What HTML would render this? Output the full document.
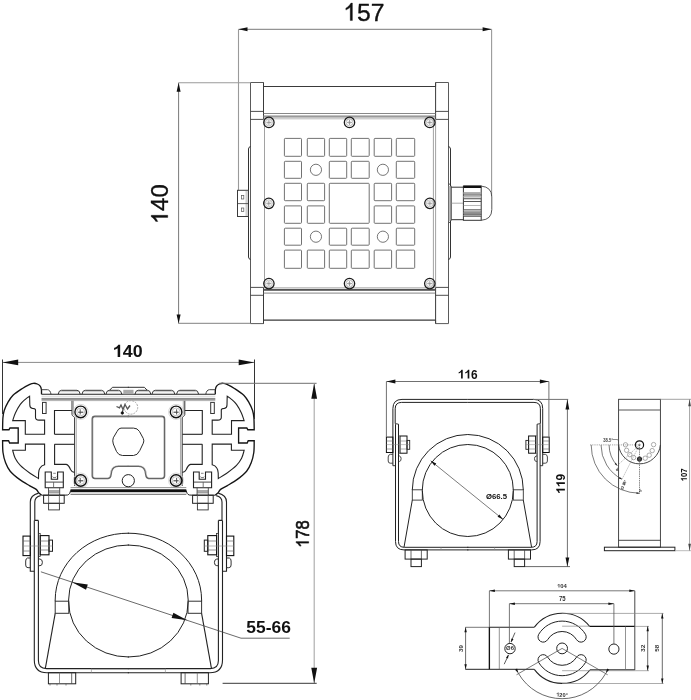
<!DOCTYPE html>
<html><head><meta charset="utf-8"><style>
html,body{margin:0;padding:0;background:#fff;width:691px;height:700px;overflow:hidden}
svg{display:block;font-family:"Liberation Sans",sans-serif;filter:grayscale(1)}
</style></head><body>
<svg width="691" height="700" viewBox="0 0 691 700">
<rect width="691" height="700" fill="#fff"/>
<line x1="238.5" y1="29.3" x2="491.6" y2="29.3" stroke="#7a7a7a" stroke-width="1" />
<path d="M238.50,29.30 L247.50,27.30 L247.50,31.30 Z" fill="#111" stroke="none"/>
<path d="M491.60,29.30 L482.60,31.30 L482.60,27.30 Z" fill="#111" stroke="none"/>
<line x1="238.5" y1="29.3" x2="238.5" y2="190.3" stroke="#9a9a9a" stroke-width="1.1" />
<line x1="491.6" y1="29.3" x2="491.6" y2="196" stroke="#9a9a9a" stroke-width="1.1" />
<g transform="translate(343.183,20.556) scale(0.24702,0.24384)" fill="#111" stroke="#111" stroke-width="1.43" stroke-linejoin="round" opacity="0.995"><path transform="translate(0.00,0)" d="M37.3,0 L37.3,-71.6 L31.5,-71.6 C29,-66.5 24.5,-61.2 18,-56 C15.5,-54 13,-52.5 10.9,-51.5 L10.9,-43 C14,-44.2 18,-46.5 22,-49 C25,-51 27,-52.7 28.5,-54.1 L28.5,0 Z"/><text x="55.60" y="0" font-size="100" font-weight="normal">5</text><text x="111.20" y="0" font-size="100" font-weight="normal">7</text></g>
<line x1="178.6" y1="82.7" x2="178.6" y2="323.6" stroke="#7a7a7a" stroke-width="1" />
<path d="M178.60,82.70 L180.60,91.70 L176.60,91.70 Z" fill="#111" stroke="none"/>
<path d="M178.60,323.60 L176.60,314.60 L180.60,314.60 Z" fill="#111" stroke="none"/>
<line x1="178.6" y1="82.7" x2="250" y2="82.7" stroke="#9a9a9a" stroke-width="1.1" />
<line x1="178.6" y1="323.4" x2="250" y2="323.4" stroke="#9a9a9a" stroke-width="1.1" />
<g transform="translate(167.768,224.241) rotate(-90) scale(0.24013,0.23151)" fill="#111" stroke="#111" stroke-width="1.48" stroke-linejoin="round" opacity="0.995"><path transform="translate(0.00,0)" d="M37.3,0 L37.3,-71.6 L31.5,-71.6 C29,-66.5 24.5,-61.2 18,-56 C15.5,-54 13,-52.5 10.9,-51.5 L10.9,-43 C14,-44.2 18,-46.5 22,-49 C25,-51 27,-52.7 28.5,-54.1 L28.5,0 Z"/><text x="55.60" y="0" font-size="100" font-weight="normal">4</text><text x="111.20" y="0" font-size="100" font-weight="normal">0</text></g>
<path d="M263.5,86.5 L263.5,82.5 L250.5,82.5 L250.5,323.6 L263.5,323.6 L263.5,320.2" stroke="#5a5a5a" stroke-width="1" fill="none" />
<line x1="263.5" y1="82.5" x2="263.5" y2="119.4" stroke="#3a3a3a" stroke-width="1" />
<line x1="263.5" y1="287.4" x2="263.5" y2="323.6" stroke="#3a3a3a" stroke-width="1" />
<line x1="250.5" y1="111.4" x2="263.5" y2="111.4" stroke="#3a3a3a" stroke-width="0.9" />
<line x1="250.5" y1="119.4" x2="263.5" y2="119.4" stroke="#3a3a3a" stroke-width="0.9" />
<line x1="250.5" y1="287.4" x2="263.5" y2="287.4" stroke="#3a3a3a" stroke-width="0.9" />
<line x1="250.5" y1="295.3" x2="263.5" y2="295.3" stroke="#3a3a3a" stroke-width="0.9" />
<path d="M435.6,86.5 L435.6,82.5 L448.5,82.5 L448.5,323.6 L435.6,323.6 L435.6,320.2" stroke="#5a5a5a" stroke-width="1" fill="none" />
<line x1="435.6" y1="82.5" x2="435.6" y2="119.4" stroke="#3a3a3a" stroke-width="1" />
<line x1="435.6" y1="287.4" x2="435.6" y2="323.6" stroke="#3a3a3a" stroke-width="1" />
<line x1="435.6" y1="111.4" x2="448.5" y2="111.4" stroke="#3a3a3a" stroke-width="0.9" />
<line x1="435.6" y1="119.4" x2="448.5" y2="119.4" stroke="#3a3a3a" stroke-width="0.9" />
<line x1="435.6" y1="287.4" x2="448.5" y2="287.4" stroke="#3a3a3a" stroke-width="0.9" />
<line x1="435.6" y1="295.3" x2="448.5" y2="295.3" stroke="#3a3a3a" stroke-width="0.9" />
<line x1="435.6" y1="119.4" x2="435.6" y2="287.4" stroke="#8a8a8a" stroke-width="0.8" />
<line x1="263.5" y1="86.5" x2="435.6" y2="86.5" stroke="#3a3a3a" stroke-width="1.2" />
<line x1="263.5" y1="320.2" x2="435.6" y2="320.2" stroke="#3a3a3a" stroke-width="1.2" />
<line x1="263.5" y1="113.5" x2="435.6" y2="113.5" stroke="#7a7a7a" stroke-width="0.9" />
<rect x="263.5" y="115.4" width="171.7" height="2.2" fill="#9a9a9a"/>
<line x1="263.5" y1="118.8" x2="435.2" y2="118.8" stroke="#aaa" stroke-width="0.8" />
<line x1="263.5" y1="287.9" x2="435.2" y2="287.9" stroke="#888" stroke-width="0.8" />
<rect x="263.5" y="289.0" width="171.7" height="1.8" fill="#555"/>
<line x1="263.5" y1="293.1" x2="435.2" y2="293.1" stroke="#777" stroke-width="0.9" />
<line x1="264.5" y1="119.5" x2="264.5" y2="287.5" stroke="#8a8a8a" stroke-width="0.8" />
<line x1="433.4" y1="119.5" x2="433.4" y2="287.5" stroke="#8a8a8a" stroke-width="0.8" />
<path d="M250.5,146.5 Q248.5,147 248.5,149 L248.5,257 Q248.5,259 250.5,259.5" stroke="#333" stroke-width="1" fill="none" />
<path d="M448.5,146.5 Q450.5,147 450.5,149 L450.5,257 Q450.5,259 448.5,259.5" stroke="#333" stroke-width="1" fill="none" />
<rect x="237.5" y="190.3" width="11.0" height="26.2" stroke="#3a3a3a" stroke-width="1" fill="none" rx="0" />
<rect x="245.5" y="191" width="2.4" height="25" fill="#d0d0d0"/>
<line x1="237.3" y1="203.6" x2="248.3" y2="203.6" stroke="#3a3a3a" stroke-width="0.8" />
<rect x="241.6" y="195.6" width="2.2" height="3.4" stroke="#555" stroke-width="0.7" fill="none" rx="0" />
<rect x="241.6" y="208.0" width="2.2" height="3.4" stroke="#555" stroke-width="0.7" fill="none" rx="0" />
<rect x="284.4" y="138.4" width="17.100000000000023" height="17.900000000000006" stroke="#6a6a6a" stroke-width="0.95" fill="none" rx="0.8" />
<rect x="284.4" y="161.3" width="17.100000000000023" height="17.0" stroke="#6a6a6a" stroke-width="0.95" fill="none" rx="0.8" />
<rect x="284.4" y="183.3" width="17.100000000000023" height="17.399999999999977" stroke="#6a6a6a" stroke-width="0.95" fill="none" rx="0.8" />
<rect x="284.4" y="205.9" width="17.100000000000023" height="17.400000000000006" stroke="#6a6a6a" stroke-width="0.95" fill="none" rx="0.8" />
<rect x="284.4" y="228.2" width="17.100000000000023" height="17.0" stroke="#6a6a6a" stroke-width="0.95" fill="none" rx="0.8" />
<rect x="284.4" y="250.1" width="17.100000000000023" height="18.200000000000017" stroke="#6a6a6a" stroke-width="0.95" fill="none" rx="0.8" />
<rect x="307.3" y="138.4" width="17.30000000000001" height="17.900000000000006" stroke="#6a6a6a" stroke-width="0.95" fill="none" rx="0.8" />
<circle cx="315.95000000000005" cy="169.8" r="5.6" stroke="#666" stroke-width="0.9" fill="none"/>
<rect x="307.3" y="183.3" width="17.30000000000001" height="17.399999999999977" stroke="#6a6a6a" stroke-width="0.95" fill="none" rx="0.8" />
<rect x="307.3" y="205.9" width="17.30000000000001" height="17.400000000000006" stroke="#6a6a6a" stroke-width="0.95" fill="none" rx="0.8" />
<circle cx="315.95000000000005" cy="236.7" r="5.6" stroke="#666" stroke-width="0.9" fill="none"/>
<rect x="307.3" y="250.1" width="17.30000000000001" height="18.200000000000017" stroke="#6a6a6a" stroke-width="0.95" fill="none" rx="0.8" />
<rect x="329.3" y="138.4" width="17.399999999999977" height="17.900000000000006" stroke="#6a6a6a" stroke-width="0.95" fill="none" rx="0.8" />
<rect x="329.3" y="161.3" width="17.399999999999977" height="17.0" stroke="#6a6a6a" stroke-width="0.95" fill="none" rx="0.8" />
<rect x="329.3" y="228.2" width="17.399999999999977" height="17.0" stroke="#6a6a6a" stroke-width="0.95" fill="none" rx="0.8" />
<rect x="329.3" y="250.1" width="17.399999999999977" height="18.200000000000017" stroke="#6a6a6a" stroke-width="0.95" fill="none" rx="0.8" />
<rect x="351.3" y="138.4" width="17.899999999999977" height="17.900000000000006" stroke="#6a6a6a" stroke-width="0.95" fill="none" rx="0.8" />
<rect x="351.3" y="161.3" width="17.899999999999977" height="17.0" stroke="#6a6a6a" stroke-width="0.95" fill="none" rx="0.8" />
<rect x="351.3" y="228.2" width="17.899999999999977" height="17.0" stroke="#6a6a6a" stroke-width="0.95" fill="none" rx="0.8" />
<rect x="351.3" y="250.1" width="17.899999999999977" height="18.200000000000017" stroke="#6a6a6a" stroke-width="0.95" fill="none" rx="0.8" />
<rect x="374.2" y="138.4" width="17.400000000000034" height="17.900000000000006" stroke="#6a6a6a" stroke-width="0.95" fill="none" rx="0.8" />
<circle cx="382.9" cy="169.8" r="5.6" stroke="#666" stroke-width="0.9" fill="none"/>
<rect x="374.2" y="183.3" width="17.400000000000034" height="17.399999999999977" stroke="#6a6a6a" stroke-width="0.95" fill="none" rx="0.8" />
<rect x="374.2" y="205.9" width="17.400000000000034" height="17.400000000000006" stroke="#6a6a6a" stroke-width="0.95" fill="none" rx="0.8" />
<circle cx="382.9" cy="236.7" r="5.6" stroke="#666" stroke-width="0.9" fill="none"/>
<rect x="374.2" y="250.1" width="17.400000000000034" height="18.200000000000017" stroke="#6a6a6a" stroke-width="0.95" fill="none" rx="0.8" />
<rect x="396.3" y="138.4" width="18.399999999999977" height="17.900000000000006" stroke="#6a6a6a" stroke-width="0.95" fill="none" rx="0.8" />
<rect x="396.3" y="161.3" width="18.399999999999977" height="17.0" stroke="#6a6a6a" stroke-width="0.95" fill="none" rx="0.8" />
<rect x="396.3" y="183.3" width="18.399999999999977" height="17.399999999999977" stroke="#6a6a6a" stroke-width="0.95" fill="none" rx="0.8" />
<rect x="396.3" y="205.9" width="18.399999999999977" height="17.400000000000006" stroke="#6a6a6a" stroke-width="0.95" fill="none" rx="0.8" />
<rect x="396.3" y="228.2" width="18.399999999999977" height="17.0" stroke="#6a6a6a" stroke-width="0.95" fill="none" rx="0.8" />
<rect x="396.3" y="250.1" width="18.399999999999977" height="18.200000000000017" stroke="#6a6a6a" stroke-width="0.95" fill="none" rx="0.8" />
<rect x="329.3" y="183.3" width="39.89999999999998" height="40.0" stroke="#6a6a6a" stroke-width="0.95" fill="none" rx="0.8" />
<circle cx="268.9" cy="122.4" r="5.2" stroke="#1a1a1a" stroke-width="1.25" fill="none"/>
<circle cx="268.9" cy="122.4" r="3.5" stroke="#9a9a9a" stroke-width="0.6" fill="none"/>
<line x1="266.4" y1="122.4" x2="271.4" y2="122.4" stroke="#888" stroke-width="0.8" />
<line x1="268.9" y1="119.9" x2="268.9" y2="124.9" stroke="#888" stroke-width="0.8" />
<line x1="269.79999999999995" y1="123.30000000000001" x2="270.9" y2="124.4" stroke="#aaa" stroke-width="0.6" />
<line x1="269.79999999999995" y1="121.5" x2="270.9" y2="120.4" stroke="#aaa" stroke-width="0.6" />
<line x1="268.0" y1="123.30000000000001" x2="266.9" y2="124.4" stroke="#aaa" stroke-width="0.6" />
<line x1="268.0" y1="121.5" x2="266.9" y2="120.4" stroke="#aaa" stroke-width="0.6" />
<circle cx="268.9" cy="283.6" r="5.2" stroke="#1a1a1a" stroke-width="1.25" fill="none"/>
<circle cx="268.9" cy="283.6" r="3.5" stroke="#9a9a9a" stroke-width="0.6" fill="none"/>
<line x1="266.4" y1="283.6" x2="271.4" y2="283.6" stroke="#888" stroke-width="0.8" />
<line x1="268.9" y1="281.1" x2="268.9" y2="286.1" stroke="#888" stroke-width="0.8" />
<line x1="269.79999999999995" y1="284.5" x2="270.9" y2="285.6" stroke="#aaa" stroke-width="0.6" />
<line x1="269.79999999999995" y1="282.70000000000005" x2="270.9" y2="281.6" stroke="#aaa" stroke-width="0.6" />
<line x1="268.0" y1="284.5" x2="266.9" y2="285.6" stroke="#aaa" stroke-width="0.6" />
<line x1="268.0" y1="282.70000000000005" x2="266.9" y2="281.6" stroke="#aaa" stroke-width="0.6" />
<circle cx="349.5" cy="122.4" r="5.2" stroke="#1a1a1a" stroke-width="1.25" fill="none"/>
<circle cx="349.5" cy="122.4" r="3.5" stroke="#9a9a9a" stroke-width="0.6" fill="none"/>
<line x1="347.0" y1="122.4" x2="352.0" y2="122.4" stroke="#888" stroke-width="0.8" />
<line x1="349.5" y1="119.9" x2="349.5" y2="124.9" stroke="#888" stroke-width="0.8" />
<line x1="350.4" y1="123.30000000000001" x2="351.5" y2="124.4" stroke="#aaa" stroke-width="0.6" />
<line x1="350.4" y1="121.5" x2="351.5" y2="120.4" stroke="#aaa" stroke-width="0.6" />
<line x1="348.6" y1="123.30000000000001" x2="347.5" y2="124.4" stroke="#aaa" stroke-width="0.6" />
<line x1="348.6" y1="121.5" x2="347.5" y2="120.4" stroke="#aaa" stroke-width="0.6" />
<circle cx="349.5" cy="283.6" r="5.2" stroke="#1a1a1a" stroke-width="1.25" fill="none"/>
<circle cx="349.5" cy="283.6" r="3.5" stroke="#9a9a9a" stroke-width="0.6" fill="none"/>
<line x1="347.0" y1="283.6" x2="352.0" y2="283.6" stroke="#888" stroke-width="0.8" />
<line x1="349.5" y1="281.1" x2="349.5" y2="286.1" stroke="#888" stroke-width="0.8" />
<line x1="350.4" y1="284.5" x2="351.5" y2="285.6" stroke="#aaa" stroke-width="0.6" />
<line x1="350.4" y1="282.70000000000005" x2="351.5" y2="281.6" stroke="#aaa" stroke-width="0.6" />
<line x1="348.6" y1="284.5" x2="347.5" y2="285.6" stroke="#aaa" stroke-width="0.6" />
<line x1="348.6" y1="282.70000000000005" x2="347.5" y2="281.6" stroke="#aaa" stroke-width="0.6" />
<circle cx="429.8" cy="122.4" r="5.2" stroke="#1a1a1a" stroke-width="1.25" fill="none"/>
<circle cx="429.8" cy="122.4" r="3.5" stroke="#9a9a9a" stroke-width="0.6" fill="none"/>
<line x1="427.3" y1="122.4" x2="432.3" y2="122.4" stroke="#888" stroke-width="0.8" />
<line x1="429.8" y1="119.9" x2="429.8" y2="124.9" stroke="#888" stroke-width="0.8" />
<line x1="430.7" y1="123.30000000000001" x2="431.8" y2="124.4" stroke="#aaa" stroke-width="0.6" />
<line x1="430.7" y1="121.5" x2="431.8" y2="120.4" stroke="#aaa" stroke-width="0.6" />
<line x1="428.90000000000003" y1="123.30000000000001" x2="427.8" y2="124.4" stroke="#aaa" stroke-width="0.6" />
<line x1="428.90000000000003" y1="121.5" x2="427.8" y2="120.4" stroke="#aaa" stroke-width="0.6" />
<circle cx="429.8" cy="283.6" r="5.2" stroke="#1a1a1a" stroke-width="1.25" fill="none"/>
<circle cx="429.8" cy="283.6" r="3.5" stroke="#9a9a9a" stroke-width="0.6" fill="none"/>
<line x1="427.3" y1="283.6" x2="432.3" y2="283.6" stroke="#888" stroke-width="0.8" />
<line x1="429.8" y1="281.1" x2="429.8" y2="286.1" stroke="#888" stroke-width="0.8" />
<line x1="430.7" y1="284.5" x2="431.8" y2="285.6" stroke="#aaa" stroke-width="0.6" />
<line x1="430.7" y1="282.70000000000005" x2="431.8" y2="281.6" stroke="#aaa" stroke-width="0.6" />
<line x1="428.90000000000003" y1="284.5" x2="427.8" y2="285.6" stroke="#aaa" stroke-width="0.6" />
<line x1="428.90000000000003" y1="282.70000000000005" x2="427.8" y2="281.6" stroke="#aaa" stroke-width="0.6" />
<circle cx="268.8" cy="203.3" r="5.2" stroke="#1a1a1a" stroke-width="1.25" fill="none"/>
<circle cx="268.8" cy="203.3" r="3.5" stroke="#9a9a9a" stroke-width="0.6" fill="none"/>
<line x1="266.3" y1="203.3" x2="271.3" y2="203.3" stroke="#888" stroke-width="0.8" />
<line x1="268.8" y1="200.8" x2="268.8" y2="205.8" stroke="#888" stroke-width="0.8" />
<line x1="269.7" y1="204.20000000000002" x2="270.8" y2="205.3" stroke="#aaa" stroke-width="0.6" />
<line x1="269.7" y1="202.4" x2="270.8" y2="201.3" stroke="#aaa" stroke-width="0.6" />
<line x1="267.90000000000003" y1="204.20000000000002" x2="266.8" y2="205.3" stroke="#aaa" stroke-width="0.6" />
<line x1="267.90000000000003" y1="202.4" x2="266.8" y2="201.3" stroke="#aaa" stroke-width="0.6" />
<circle cx="429.9" cy="203.3" r="5.2" stroke="#1a1a1a" stroke-width="1.25" fill="none"/>
<circle cx="429.9" cy="203.3" r="3.5" stroke="#9a9a9a" stroke-width="0.6" fill="none"/>
<line x1="427.4" y1="203.3" x2="432.4" y2="203.3" stroke="#888" stroke-width="0.8" />
<line x1="429.9" y1="200.8" x2="429.9" y2="205.8" stroke="#888" stroke-width="0.8" />
<line x1="430.79999999999995" y1="204.20000000000002" x2="431.9" y2="205.3" stroke="#aaa" stroke-width="0.6" />
<line x1="430.79999999999995" y1="202.4" x2="431.9" y2="201.3" stroke="#aaa" stroke-width="0.6" />
<line x1="429.0" y1="204.20000000000002" x2="427.9" y2="205.3" stroke="#aaa" stroke-width="0.6" />
<line x1="429.0" y1="202.4" x2="427.9" y2="201.3" stroke="#aaa" stroke-width="0.6" />
<rect x="448.8" y="186" width="2.7" height="35" fill="#bbb"/>
<path d="M448.8,183.5 Q450.8,184.5 451.2,187 L451.2,219.5 Q450.8,222 448.8,223" stroke="#333" stroke-width="0.9" fill="none" />
<path d="M451.2,187.2 L463.4,187.2 M451.2,219.7 L463.4,219.7" stroke="#333" stroke-width="1" fill="none" />
<line x1="451.2" y1="203.2" x2="463.4" y2="203.2" stroke="#888" stroke-width="0.7" />
<rect x="463.4" y="186.1" width="17.8" height="34.2" stroke="#333" stroke-width="1" fill="none" rx="0" />
<rect x="463.4" y="185.6" width="17.8" height="2.4" fill="#111"/>
<rect x="463.4" y="192.1" width="17.8" height="2.0" fill="#a8a8a8"/>
<rect x="463.4" y="194.3" width="17.8" height="1.3" fill="#6a6a6a"/>
<rect x="463.4" y="195.9" width="17.8" height="1.7" fill="#b8b8b8"/>
<rect x="463.4" y="198.1" width="17.8" height="1.2" fill="#6a6a6a"/>
<rect x="463.4" y="201" width="17.8" height="0.9" fill="#444"/>
<rect x="463.4" y="205.3" width="17.8" height="0.6" fill="#888"/>
<rect x="463.4" y="209.3" width="17.8" height="0.8" fill="#555"/>
<rect x="463.4" y="210.4" width="17.8" height="0.9" fill="#999"/>
<rect x="463.4" y="211.6" width="17.8" height="0.6" fill="#555"/>
<rect x="463.4" y="212.1" width="17.8" height="1.8" fill="#8a8a8a"/>
<rect x="463.4" y="213.9" width="17.8" height="0.8" fill="#444"/>
<rect x="463.4" y="215" width="17.8" height="0.9" fill="#999"/>
<rect x="463.4" y="216" width="17.8" height="0.7" fill="#444"/>
<path d="M481.2,186.1 Q491.8,187 491.8,197 L491.8,209.5 Q491.8,219.5 481.2,220.3" stroke="#444" stroke-width="0.9" fill="none" />
<g id="llhalf"><path d="M41.5,394.2 C41.48,393.42 41.62,390.83 41.4,389.5 C41.18,388.17 40.88,387.12 40.2,386.2 C39.52,385.28 38.42,384.48 37.3,384.0 C36.18,383.52 34.75,383.23 33.5,383.3 C32.25,383.37 31.72,383.50 29.8,384.4 C27.88,385.30 24.80,386.88 22,388.7 C19.20,390.52 15.37,392.98 13,395.3 C10.63,397.62 9.27,400.07 7.8,402.6 C6.33,405.13 5.02,407.93 4.2,410.5 C3.38,413.07 3.17,414.80 2.9,418 C2.63,421.20 2.65,427.75 2.6,429.7 L9,429.7 L10,428 L18.2,428 L18.2,443 L9.6,443 L8.6,440.7 L2.6,440.7 C2.67,442.67 2.50,448.82 3.0,452.5 C3.50,456.18 4.40,459.68 5.6,462.8 C6.80,465.92 7.88,468.43 10.2,471.2 C12.52,473.97 16.23,476.97 19.5,479.4 C22.77,481.83 27.02,484.13 29.8,485.8 C32.58,487.47 34.73,488.27 36.2,489.4 C37.67,490.53 37.70,491.63 38.6,492.6 C39.50,493.57 41.10,494.77 41.6,495.2" stroke="#151515" stroke-width="1.35" fill="none"/>
<path d="M12.7,420.6 L25.3,420.6 L25.3,434.3 L44.6,434.3 L44.6,420.1 L39,420.1 C36.5,420 35.5,419 35.5,417.5 L35.5,410 C35.5,409 34,408.5 32.4,408.4 C30.5,408 29.8,407.4 29.8,405 L29.6,396.3 C28.88,396.80 26.85,397.95 25.3,399.3 C23.75,400.65 21.95,402.12 20.3,404.4 C18.65,406.68 16.67,410.30 15.4,413 C14.13,415.70 13.15,419.33 12.7,420.6 Z" stroke="#222" stroke-width="1.1" fill="none"/>
<path d="M12.6,450.2 L25.4,450.2 L25.4,444.1 L44.6,444.1 L44.6,464.8 C42.5,465.2 40.9,466.5 40,468 C39,469.5 38.6,471 38.6,473 L38.5,478.5 C37.15,477.67 33.43,475.68 30.4,473.5 C27.37,471.32 22.83,467.93 20.3,465.4 C17.77,462.87 16.48,460.83 15.2,458.3 C13.92,455.77 13.03,451.55 12.6,450.2 Z" stroke="#222" stroke-width="1.1" fill="none"/>
<path d="M54.6,444.3 L54.6,464.4 L66.2,464.4 C68.5,465 69.5,467 70.5,469.5 C71.5,471.5 72.5,472.3 74.5,472.4" stroke="#222" stroke-width="1.1" fill="none"/>
<path d="M54.5,434.3 L54.5,410.5 L72,410.5" stroke="#222" stroke-width="1.1" fill="none"/>
<line x1="54.5" y1="434.3" x2="74.5" y2="434.3" stroke="#222" stroke-width="1.1"/>
<line x1="54.5" y1="444.3" x2="74.5" y2="444.3" stroke="#222" stroke-width="1.1"/>
<rect x="42.5" y="402.4" width="3.6" height="11.1" stroke="#333" stroke-width="1" fill="none" rx="0"/>
<path d="M41.5,389.7 L47.5,389.7 C49.5,389.9 50.5,391.5 51,394.2" stroke="#444" stroke-width="1" fill="none"/>
<path d="M58.2,394.2 Q58.800000000000004,390.3 61.400000000000006,390.3 L77.0,390.3 Q79.60000000000001,390.3 80.2,394.2" stroke="#333" stroke-width="1" fill="none"/>
<line x1="60.400000000000006" y1="391.7" x2="78.0" y2="391.7" stroke="#aaa" stroke-width="0.7"/>
<path d="M82.0,394.2 Q82.6,390.3 85.2,390.3 L101.6,390.3 Q104.2,390.3 104.8,394.2" stroke="#333" stroke-width="1" fill="none"/>
<line x1="84.2" y1="391.7" x2="102.6" y2="391.7" stroke="#aaa" stroke-width="0.7"/>
<path d="M106,394.2 Q106.6,390.3 109.2,390.3 L118.6,390.3 Q121.2,390.3 121.8,394.2" stroke="#333" stroke-width="1" fill="none"/>
<line x1="108.2" y1="391.7" x2="119.6" y2="391.7" stroke="#aaa" stroke-width="0.7"/>
<path d="M109.6,390.3 L112.4,387.3 L129,387.3" stroke="#333" stroke-width="1" fill="none"/>
<path d="M72,400.6 L72,414.5 Q72,415.5 73.5,416.5 L74.6,417.5 L74.6,486" stroke="#333" stroke-width="1" fill="none"/>
<path d="M73.5,400.6 L73.5,413.8 Q73.8,415 75.3,416 L76.3,417 L76.3,485" stroke="#999" stroke-width="0.8" fill="none"/>
<path d="M129,416.5 L95,416.5 Q92.4,416.5 92.4,419 L92.4,475.8 Q92.4,478.3 95,478.3 L108.1,478.3 Q110.5,478 110.8,475 L111.5,471 Q113,466.2 118.5,466.1 L129,466.1" stroke="#666" stroke-width="1.8" fill="none"/>
<path d="M129,417.3 L95.3,417.3 Q93.3,417.3 93.3,419.3 L93.3,475.5 Q93.3,477.5 95.3,477.5 L107.8,477.5 Q109.8,477.2 110.1,474.8 L110.8,471 Q112.3,465.3 118.5,465.3 L129,465.3" stroke="#fff" stroke-width="0.5" fill="none"/>
<circle cx="80.7" cy="411.9" r="5.8" stroke="#111" stroke-width="1.4" fill="none"/>
<circle cx="80.7" cy="411.9" r="3.9" stroke="#999" stroke-width="0.6" fill="none"/>
<line x1="78.2" y1="412.2" x2="83.3" y2="412.2" stroke="#333" stroke-width="1.0"/>
<line x1="80.2" y1="409.29999999999995" x2="80.2" y2="414.5" stroke="#444" stroke-width="0.9"/>
<circle cx="80.7" cy="411.9" r="7.5" stroke="#c8c8c8" stroke-width="0.7" fill="none"/>
<circle cx="80.7" cy="480.5" r="5.8" stroke="#111" stroke-width="1.4" fill="none"/>
<circle cx="80.7" cy="480.5" r="3.9" stroke="#999" stroke-width="0.6" fill="none"/>
<line x1="78.2" y1="480.8" x2="83.3" y2="480.8" stroke="#333" stroke-width="1.0"/>
<line x1="80.2" y1="477.9" x2="80.2" y2="483.1" stroke="#444" stroke-width="0.9"/>
<circle cx="80.7" cy="480.5" r="7.5" stroke="#c8c8c8" stroke-width="0.7" fill="none"/>
<path d="M45.2,472 L51.3,472 L51.3,479.2 L57.6,479.2 L57.6,472 L63.3,472 L63.3,487.7 L45.2,487.7 Z" stroke="#222" stroke-width="1.1" fill="none"/>
<path d="M52.6,476.5 L53.8,478 L54.5,477 L55.2,478 L56.3,476.5 M53.2,473.3 L55.8,473.3" stroke="#555" stroke-width="0.7" fill="none"/>
<line x1="45.2" y1="482.1" x2="63.3" y2="482.1" stroke="#333" stroke-width="0.9"/>
<line x1="53.6" y1="482.1" x2="53.6" y2="487.7" stroke="#555" stroke-width="0.8"/>
<path d="M48.5,487.7 L48.5,495.2 M59.7,487.7 L59.7,495.2" stroke="#444" stroke-width="0.9" fill="none"/>
<line x1="48.5" y1="491.0" x2="59.7" y2="491.0" stroke="#444" stroke-width="0.9"/>
<line x1="48.5" y1="492.8" x2="59.7" y2="492.8" stroke="#555" stroke-width="0.8"/>
<path d="M64,495.2 L67.5,495 C69.5,494.5 70.3,492.5 70.5,490.5" stroke="#222" stroke-width="1" fill="none"/>
<line x1="41.6" y1="495.2" x2="64" y2="495.2" stroke="#222" stroke-width="1"/>
<rect x="43.6" y="495.2" width="20.6" height="8.1" stroke="#222" stroke-width="1" fill="none" rx="0"/>
<line x1="48.6" y1="495.2" x2="48.6" y2="503.3" stroke="#555" stroke-width="0.8"/>
<line x1="59.4" y1="495.2" x2="59.4" y2="503.3" stroke="#555" stroke-width="0.8"/>
<rect x="48.6" y="503.3" width="10.8" height="6.6" stroke="#333" stroke-width="0.9" fill="none" rx="0"/>
<path d="M38.6,493.1 C33,494.5 30.3,497 30.3,502 L30.3,571.3 L34.3,571.3" stroke="#222" stroke-width="1.1" fill="none"/>
<path d="M40.6,495.6 C36.5,496.5 34.8,498.5 34.8,502 L34.8,520.4 L38.4,520.4" stroke="#222" stroke-width="1.1" fill="none"/>
<path d="M34.3,520.4 L34.3,660 Q34.3,672.7 47,672.7 L129,672.7" stroke="#222" stroke-width="1.1" fill="none"/>
<path d="M38.4,520.4 L38.4,660.5 Q38.4,668.6 46.5,668.6 L129,668.6" stroke="#222" stroke-width="1.1" fill="none"/>
<line x1="91.4" y1="668.6" x2="91.4" y2="672.7" stroke="#888" stroke-width="0.6"/>
<rect x="23" y="536.1" width="7.3" height="19.5" stroke="#111" stroke-width="1.1" fill="none" rx="0"/>
<line x1="23" y1="541" x2="30.3" y2="541" stroke="#666" stroke-width="0.7"/>
<line x1="23" y1="551" x2="30.3" y2="551" stroke="#666" stroke-width="0.7"/>
<rect x="38.4" y="533.6" width="1.8" height="23" stroke="#333" stroke-width="0.8" fill="none" rx="0"/>
<rect x="40.2" y="535.6" width="8.8" height="19.2" stroke="#111" stroke-width="1.1" fill="none" rx="0"/>
<line x1="40.2" y1="541" x2="49" y2="541" stroke="#666" stroke-width="0.7"/>
<line x1="40.2" y1="550" x2="49" y2="550" stroke="#666" stroke-width="0.7"/>
<rect x="49" y="540.1" width="3.5" height="11.2" stroke="#222" stroke-width="1" fill="none" rx="0"/>
<line x1="23" y1="546" x2="52.5" y2="546" stroke="#888" stroke-width="0.6"/>
<path d="M30.3,558 L27.5,558 Q25.7,558.5 25.7,561 L25.7,565 Q25.7,567.7 28,567.7 L30.3,567.7" stroke="#333" stroke-width="1" fill="none"/>
<path d="M38.4,559 L40,559 Q42.4,559.5 42.4,562.3 Q42.4,565.7 40,565.7 L38.4,565.7" stroke="#333" stroke-width="1" fill="none"/>
<path d="M55.2,601.2 L55.2,600 A73.1,66.8 0 0 1 129,533.2" stroke="#222" stroke-width="1" fill="none"/>
<path d="M68.6,601.2 L68.6,600 A59.8,55 0 0 1 129,545" stroke="#222" stroke-width="1" fill="none"/>
<rect x="55.2" y="601.2" width="13.6" height="12.1" stroke="#333" stroke-width="1" fill="none" rx="0"/>
<line x1="55.2" y1="613.3" x2="45.3" y2="668.6" stroke="#222" stroke-width="1.1"/>
<path d="M68.6,601.5 A59.8,55.7 0 0 0 129,657" stroke="#222" stroke-width="1" fill="none"/>
<rect x="48.4" y="672.7" width="27.3" height="11.1" stroke="#222" stroke-width="1" fill="none" rx="0"/>
<line x1="59.5" y1="672.7" x2="59.5" y2="683.8" stroke="#666" stroke-width="0.7"/>
<line x1="71.7" y1="672.7" x2="71.7" y2="683.8" stroke="#444" stroke-width="0.8"/>
<path d="M50,683.8 L50,685.5 M57,683.8 L57,685.5 M66,683.8 L66,685.5" stroke="#555" stroke-width="0.7" fill="none"/></g>
<use href="#llhalf" transform="translate(256.8,0) scale(-1,1)"/>
<line x1="41.5" y1="394.2" x2="215.3" y2="394.2" stroke="#222" stroke-width="1.1" />
<rect x="41.5" y="397.9" width="173.8" height="2.0" fill="#8c8c8c"/>
<line x1="41.5" y1="396.3" x2="215.3" y2="396.3" stroke="#d0d0d0" stroke-width="0.8" />
<line x1="41.5" y1="400.6" x2="215.3" y2="400.6" stroke="#999" stroke-width="0.8" />
<line x1="70.5" y1="487.6" x2="186.3" y2="487.6" stroke="#888" stroke-width="0.9" />
<rect x="70.5" y="489.3" width="115.8" height="2.9" fill="#111"/>
<line x1="70.5" y1="494.3" x2="186.3" y2="494.3" stroke="#666" stroke-width="1" />
<line x1="91.4" y1="669.3" x2="165.4" y2="669.3" stroke="#999" stroke-width="0.6" />
<rect x="123.3" y="389.8" width="10.2" height="4.4" fill="#aaa"/>
<circle cx="130.9" cy="407.4" r="6.8" stroke="#aaa" stroke-width="1" fill="none" stroke-dasharray="2 1"/>
<path d="M116.5,406.5 L119.5,407.8 L121,405 L123,409.5 L125,404.5 L127.5,409 L130,405.5 M123,409.5 L122.3,412.5" stroke="#555" stroke-width="1.3" fill="none" />
<circle cx="122.3" cy="413" r="1.2" stroke="#111" stroke-width="0.8" fill="#111"/>
<path d="M121,428.1 L133.5,428.1 Q137.5,428.1 139.5,431.5 L143.3,438.5 Q144.4,440.8 143.3,443.2 L139.8,450.5 Q137.5,455.5 133.5,455.5 L122.5,455.5 Q118.5,455.5 116.5,451.5 L113.3,444 Q112.2,440.8 113.3,437.8 L117,431.5 Q118.5,428.1 121,428.1 Z" stroke="#2a2a2a" stroke-width="1" fill="none" />
<circle cx="128.3" cy="480.7" r="6.1" stroke="#222" stroke-width="1" fill="none"/>
<line x1="2.5" y1="362.4" x2="254.4" y2="362.4" stroke="#8a8a8a" stroke-width="1" />
<path d="M2.50,362.40 L18.20,359.50 L18.20,365.30 Z" fill="#111" stroke="none"/>
<path d="M254.40,362.40 L238.70,365.30 L238.70,359.50 Z" fill="#111" stroke="none"/>
<line x1="2.5" y1="359.5" x2="2.5" y2="414" stroke="#333" stroke-width="1" />
<line x1="254.5" y1="359.5" x2="254.5" y2="419" stroke="#333" stroke-width="1" />
<g transform="translate(112.853,356.929) scale(0.17821,0.17123)" fill="#111" opacity="0.995"><path transform="translate(0.00,0)" d="M41,0 L41,-71.6 L30,-71.6 C28,-66 23,-61 16,-57 C13,-55.3 10,-54 7,-53 L7,-41 C13,-43 20,-46.2 27,-51 L27,0 Z"/><text x="55.60" y="0" font-size="100" font-weight="bold">4</text><text x="111.20" y="0" font-size="100" font-weight="bold">0</text></g>
<line x1="218.8" y1="383.3" x2="316.6" y2="383.3" stroke="#707070" stroke-width="1" />
<line x1="314.2" y1="383.3" x2="314.2" y2="683.3" stroke="#a8a8a8" stroke-width="1.1" />
<path d="M314.20,383.30 L317.10,398.80 L311.30,398.80 Z" fill="#111" stroke="none"/>
<path d="M314.20,683.30 L311.30,667.80 L317.10,667.80 Z" fill="#111" stroke="none"/>
<line x1="222.6" y1="683.3" x2="316.7" y2="683.3" stroke="#222" stroke-width="0.9" />
<g transform="translate(308.625,547.814) rotate(-90) scale(0.16490,0.17534)" fill="#111" stroke="#111" stroke-width="3.53" stroke-linejoin="round" opacity="0.995"><path transform="translate(0.00,0)" d="M37.3,0 L37.3,-71.6 L31.5,-71.6 C29,-66.5 24.5,-61.2 18,-56 C15.5,-54 13,-52.5 10.9,-51.5 L10.9,-43 C14,-44.2 18,-46.5 22,-49 C25,-51 27,-52.7 28.5,-54.1 L28.5,0 Z"/><text x="55.60" y="0" font-size="100" font-weight="normal">7</text><text x="111.20" y="0" font-size="100" font-weight="normal">8</text></g>
<line x1="40.9" y1="571.8" x2="241" y2="638.2" stroke="#444" stroke-width="0.8" />
<line x1="241" y1="638.2" x2="289.7" y2="638.2" stroke="#444" stroke-width="0.8" />
<path d="M72.20,582.20 L87.79,584.42 L86.03,589.74 Z" fill="#111" stroke="none"/>
<path d="M187.20,620.30 L171.61,618.08 L173.37,612.76 Z" fill="#111" stroke="none"/>
<g transform="translate(246.277,633.138) scale(0.17430,0.16197)" fill="#111" opacity="0.995"><text x="0.00" y="0" font-size="100" font-weight="bold">5</text><text x="55.60" y="0" font-size="100" font-weight="bold">5</text><text x="111.20" y="0" font-size="100" font-weight="bold">-</text><text x="144.50" y="0" font-size="100" font-weight="bold">6</text><text x="200.10" y="0" font-size="100" font-weight="bold">6</text></g>
<g id="mrhalf"><path d="M392.9,465.7 L392.9,408.5 Q392.9,399.4 402,399.4 L467.8,399.4" stroke="#222" stroke-width="1" fill="none"/>
<path d="M395.2,423.6 L395.2,408.8 Q395.2,402.4 401.6,402.4 L467.8,402.4" stroke="#222" stroke-width="1" fill="none"/>
<line x1="395.2" y1="423.6" x2="398.5" y2="424.2" stroke="#222" stroke-width="0.9"/>
<line x1="392.9" y1="465.7" x2="395.5" y2="465.7" stroke="#222" stroke-width="0.9"/>
<path d="M395.5,424.2 L395.5,541.5 Q395.5,549.9 404,549.9 L468.40000000000003,549.9" stroke="#222" stroke-width="1" fill="none"/>
<path d="M398.5,424.2 L398.5,541.5 Q398.5,547.3 404.4,547.3 L468.40000000000003,547.3" stroke="#222" stroke-width="1" fill="none"/>
<line x1="441" y1="547.3" x2="441" y2="549.9" stroke="#888" stroke-width="0.6"/>
<rect x="386.4" y="437.1" width="6.5" height="15.4" stroke="#111" stroke-width="1" fill="none"/>
<line x1="386.4" y1="441" x2="392.9" y2="441" stroke="#666" stroke-width="0.6"/>
<line x1="386.4" y1="449" x2="392.9" y2="449" stroke="#666" stroke-width="0.6"/>
<line x1="398.5" y1="435.8" x2="399.9" y2="435.8" stroke="#666" stroke-width="0.6"/>
<line x1="398.5" y1="453.6" x2="399.9" y2="453.6" stroke="#666" stroke-width="0.6"/>
<rect x="400.0" y="436" width="7.0" height="17.2" stroke="#111" stroke-width="1" fill="none"/>
<line x1="400" y1="441" x2="407" y2="441" stroke="#777" stroke-width="0.6"/>
<line x1="400" y1="449" x2="407" y2="449" stroke="#777" stroke-width="0.6"/>
<rect x="407.0" y="440.4" width="2.7" height="8.9" stroke="#222" stroke-width="0.9" fill="none"/>
<line x1="386.4" y1="444.6" x2="409.6" y2="444.6" stroke="#888" stroke-width="0.5"/>
<path d="M392.9,454.3 L390.3,454.3 Q388.2,454.8 388.2,457 L388.2,461 Q388.2,463.2 390.3,463.2 L392.9,463.2" stroke="#333" stroke-width="0.9" fill="none"/>
<path d="M398.5,456 L399.5,456 Q401.1,456.5 401.1,458.6 Q401.1,461.4 399.5,461.4 L398.5,461.4" stroke="#333" stroke-width="0.9" fill="none"/>
<path d="M412.3,489.8 L412.3,490 A55.5,55.5 0 0 1 467.8,434.5" stroke="#222" stroke-width="1" fill="none"/>
<path d="M422.3,489.8 L422.3,490 A45.5,45.5 0 0 1 467.8,444.5" stroke="#222" stroke-width="1" fill="none"/>
<rect x="412.3" y="489.8" width="10" height="10.3" stroke="#333" stroke-width="0.9" fill="none"/>
<line x1="412.3" y1="500.1" x2="404" y2="547.3" stroke="#222" stroke-width="1"/>
<path d="M422.3,490.5 A45.5,46 0 0 0 467.8,536.5" stroke="#222" stroke-width="1" fill="none"/>
<rect x="405.1" y="549.9" width="22.1" height="9.2" stroke="#222" stroke-width="1" fill="none"/>
<line x1="411" y1="549.9" x2="411" y2="559.1" stroke="#444" stroke-width="0.8"/>
<line x1="421.4" y1="549.9" x2="421.4" y2="559.1" stroke="#444" stroke-width="0.8"/>
<rect x="411" y="559.1" width="10.4" height="7.5" stroke="#222" stroke-width="1" fill="none"/></g>
<use href="#mrhalf" transform="translate(935.6,0) scale(-1,1)"/>
<line x1="386.4" y1="381.5" x2="548.9" y2="381.5" stroke="#707070" stroke-width="1" />
<path d="M386.40,381.50 L395.40,379.60 L395.40,383.40 Z" fill="#111" stroke="none"/>
<path d="M548.90,381.50 L539.90,383.40 L539.90,379.60 Z" fill="#111" stroke="none"/>
<line x1="386.4" y1="381.5" x2="386.4" y2="437" stroke="#707070" stroke-width="1" />
<line x1="548.9" y1="381.5" x2="548.9" y2="437.3" stroke="#707070" stroke-width="1" />
<g transform="translate(457.870,378.578) scale(0.11859,0.12192)" fill="#111" opacity="0.995"><path transform="translate(0.00,0)" d="M41,0 L41,-71.6 L30,-71.6 C28,-66 23,-61 16,-57 C13,-55.3 10,-54 7,-53 L7,-41 C13,-43 20,-46.2 27,-51 L27,0 Z"/><path transform="translate(55.60,0)" d="M41,0 L41,-71.6 L30,-71.6 C28,-66 23,-61 16,-57 C13,-55.3 10,-54 7,-53 L7,-41 C13,-43 20,-46.2 27,-51 L27,0 Z"/><text x="111.20" y="0" font-size="100" font-weight="bold">6</text></g>
<line x1="533" y1="399.4" x2="568.2" y2="399.4" stroke="#707070" stroke-width="1" />
<line x1="567.4" y1="399.4" x2="567.4" y2="566.6" stroke="#707070" stroke-width="1" />
<path d="M567.40,399.40 L569.30,409.40 L565.50,409.40 Z" fill="#111" stroke="none"/>
<path d="M567.40,566.60 L565.50,557.60 L569.30,557.60 Z" fill="#111" stroke="none"/>
<line x1="524.9" y1="566.6" x2="570" y2="566.6" stroke="#444" stroke-width="0.8" />
<g transform="translate(564.879,493.730) rotate(-90) scale(0.11859,0.12055)" fill="#111" opacity="0.995"><path transform="translate(0.00,0)" d="M41,0 L41,-71.6 L30,-71.6 C28,-66 23,-61 16,-57 C13,-55.3 10,-54 7,-53 L7,-41 C13,-43 20,-46.2 27,-51 L27,0 Z"/><path transform="translate(55.60,0)" d="M41,0 L41,-71.6 L30,-71.6 C28,-66 23,-61 16,-57 C13,-55.3 10,-54 7,-53 L7,-41 C13,-43 20,-46.2 27,-51 L27,0 Z"/><text x="111.20" y="0" font-size="100" font-weight="bold">9</text></g>
<line x1="430.7" y1="460.8" x2="503.1" y2="519.4" stroke="#444" stroke-width="0.7" />
<path d="M430.70,460.80 L436.24,463.49 L434.48,465.66 Z" fill="#111" stroke="none"/>
<path d="M503.10,519.40 L497.56,516.71 L499.32,514.54 Z" fill="#111" stroke="none"/>
<g transform="translate(485.940,498.660) scale(0.07744,0.08000)" fill="#111" opacity="0.995"><text x="0.00" y="0" font-size="100" font-weight="bold">Ø</text><text x="77.80" y="0" font-size="100" font-weight="bold">6</text><text x="133.40" y="0" font-size="100" font-weight="bold">6</text><text x="189.00" y="0" font-size="100" font-weight="bold">.</text><text x="216.80" y="0" font-size="100" font-weight="bold">5</text></g>
<rect x="618.6" y="399.3" width="41.8" height="147.9" stroke="#333" stroke-width="0.9" fill="none" rx="0" />
<line x1="618.6" y1="410" x2="660.4" y2="410" stroke="#555" stroke-width="1" />
<line x1="618.6" y1="540.3" x2="660.4" y2="540.3" stroke="#333" stroke-width="0.9" />
<rect x="604.4" y="547.2" width="70.5" height="3.5" stroke="#222" stroke-width="1" fill="none" rx="0" />
<line x1="660.4" y1="399.3" x2="691" y2="399.3" stroke="#8a8a8a" stroke-width="0.8" />
<line x1="675" y1="550.7" x2="691" y2="550.7" stroke="#aaa" stroke-width="0.8" />
<line x1="689.6" y1="399.3" x2="689.6" y2="550.7" stroke="#8a8a8a" stroke-width="0.8" />
<path d="M689.60,399.30 L690.90,406.30 L688.30,406.30 Z" fill="#444" stroke="none"/>
<path d="M689.60,550.70 L688.30,543.70 L690.90,543.70 Z" fill="#444" stroke="none"/>
<g transform="translate(686.915,481.342) rotate(-90) scale(0.07742,0.08493)" fill="#111" opacity="0.995"><path transform="translate(0.00,0)" d="M41,0 L41,-71.6 L30,-71.6 C28,-66 23,-61 16,-57 C13,-55.3 10,-54 7,-53 L7,-41 C13,-43 20,-46.2 27,-51 L27,0 Z"/><text x="55.60" y="0" font-size="100" font-weight="bold">0</text><text x="111.20" y="0" font-size="100" font-weight="bold">7</text></g>
<path d="M618.6,444.9 A21,21 0 0 0 660.4,444.9" stroke="#333" stroke-width="0.9" fill="none" />
<circle cx="639.5" cy="444.9" r="4.1" stroke="#111" stroke-width="1.2" fill="none"/>
<circle cx="639.5" cy="444.9" r="0.8" stroke="#555" stroke-width="0.6" fill="none"/>
<circle cx="625.5" cy="444.8" r="2.2" stroke="#8a8a8a" stroke-width="0.7" fill="none"/>
<circle cx="626.6" cy="450.3" r="2.2" stroke="#8a8a8a" stroke-width="0.7" fill="none"/>
<circle cx="629.8" cy="454.6" r="2.2" stroke="#8a8a8a" stroke-width="0.7" fill="none"/>
<circle cx="633.6" cy="457.6" r="2.2" stroke="#8a8a8a" stroke-width="0.7" fill="none"/>
<circle cx="645.2" cy="458.2" r="2.2" stroke="#8a8a8a" stroke-width="0.7" fill="none"/>
<circle cx="649.2" cy="455.2" r="2.2" stroke="#8a8a8a" stroke-width="0.7" fill="none"/>
<circle cx="652.2" cy="450.6" r="2.2" stroke="#8a8a8a" stroke-width="0.7" fill="none"/>
<circle cx="653.6" cy="444.6" r="2.2" stroke="#8a8a8a" stroke-width="0.7" fill="none"/>
<circle cx="639.5" cy="459.1" r="2.2" stroke="#222" stroke-width="1" fill="#444"/>
<line x1="590" y1="444.9" x2="639.5" y2="444.9" stroke="#666" stroke-width="0.6" stroke-dasharray="1.2 1"/>
<line x1="639.5" y1="444.9" x2="639.5" y2="494" stroke="#555" stroke-width="0.6" stroke-dasharray="1.2 1"/>
<path d="M591.20,444.90 A48.3,48.3 0 0 0 639.50,493.20" stroke="#444" stroke-width="0.7" fill="none" />
<line x1="639.5" y1="444.9" x2="639.5" y2="493.2" stroke="#666" stroke-width="0.5" stroke-dasharray="1.2 1"/>
<path d="M639.50,493.20 L636.50,494.10 L636.50,492.30 Z" fill="#222" stroke="none"/>
<path d="M601.00,444.90 A38.5,38.5 0 0 0 622.02,479.20" stroke="#444" stroke-width="0.7" fill="none" />
<line x1="639.5" y1="444.9" x2="622.0213657600275" y2="479.20375118125213" stroke="#666" stroke-width="0.5" stroke-dasharray="1.2 1"/>
<path d="M622.02,479.20 L618.94,478.64 L619.76,477.04 Z" fill="#222" stroke="none"/>
<path d="M609.10,444.90 A30.4,30.4 0 0 0 617.27,465.63" stroke="#444" stroke-width="0.7" fill="none" />
<line x1="639.5" y1="444.9" x2="617.2668474707772" y2="465.63275014589993" stroke="#666" stroke-width="0.5" stroke-dasharray="1.2 1"/>
<path d="M617.27,465.63 L614.56,464.05 L615.88,462.82 Z" fill="#222" stroke="none"/>
<g transform="translate(603.218,442.354) scale(0.04079,0.04648)" fill="#444" opacity="0.995"><text x="0.00" y="0" font-size="100" font-weight="bold">3</text><text x="55.60" y="0" font-size="100" font-weight="bold">8</text><text x="111.20" y="0" font-size="100" font-weight="bold">.</text><text x="139.00" y="0" font-size="100" font-weight="bold">5</text><text x="194.60" y="0" font-size="100" font-weight="bold">°</text></g>
<path d="M612.6,439.5 L617.5,439.5 L618.6,441" stroke="#444" stroke-width="0.6" fill="none" />
<g fill="#222" font-size="3.5" font-weight="bold">
<text x="0" y="0" transform="translate(617.5,471.5) rotate(-55)">0°</text>
<text x="0" y="0" transform="translate(625,485.5) rotate(-70)">45°</text>
<text x="0" y="0" transform="translate(623,490) rotate(-72)">22.5°</text>
<text x="0" y="0" transform="translate(641.5,492) rotate(-90)">0°</text>
</g>
<line x1="489.4" y1="627.3" x2="534.4" y2="627.3" stroke="#222" stroke-width="1.1" />
<line x1="465.4" y1="627.3" x2="489.4" y2="627.3" stroke="#555" stroke-width="0.8" />
<line x1="465.4" y1="669.3" x2="534.3" y2="669.3" stroke="#222" stroke-width="1" />
<line x1="489.4" y1="590.8" x2="489.4" y2="669.3" stroke="#555" stroke-width="0.8" />
<line x1="489.4" y1="627.3" x2="489.4" y2="669.3" stroke="#111" stroke-width="1.3" />
<line x1="499.3" y1="627.3" x2="499.3" y2="669.3" stroke="#666" stroke-width="0.7" />
<line x1="589.9" y1="626.4" x2="634.8" y2="626.4" stroke="#111" stroke-width="1.3" />
<line x1="589.9" y1="669.8" x2="634.8" y2="669.8" stroke="#222" stroke-width="1" />
<line x1="634.8" y1="590.8" x2="634.8" y2="670" stroke="#333" stroke-width="0.9" />
<line x1="625.5" y1="626.4" x2="625.5" y2="670" stroke="#666" stroke-width="0.7" />
<path d="M534.4,627.2 A35,35 0 0 1 589.8,626.6" stroke="#222" stroke-width="1.1" fill="none" />
<path d="M534.3,669.3 A35,35 0 0 0 589.9,670" stroke="#222" stroke-width="1.1" fill="none" />
<path d="M538.70,634.34 A27.3,27.3 0 0 1 585.50,634.34 A5.200000000000001,5.200000000000001 0 0 1 576.59,639.70 A16.9,16.9 0 0 0 547.61,639.70 A5.200000000000001,5.200000000000001 0 0 1 538.70,634.34 Z" stroke="#222" stroke-width="1" fill="none" />
<path d="M538.70,662.46 A27.3,27.3 0 0 0 585.50,662.46 A5.200000000000001,5.200000000000001 0 0 0 576.59,657.10 A16.9,16.9 0 0 1 547.61,657.10 A5.200000000000001,5.200000000000001 0 0 0 538.70,662.46 Z" stroke="#222" stroke-width="1" fill="none" />
<circle cx="562.1" cy="648.4" r="5.4" stroke="#222" stroke-width="1" fill="none"/>
<circle cx="510" cy="648.6" r="5.2" stroke="#222" stroke-width="1" fill="none"/>
<circle cx="613.9" cy="649.1" r="5.1" stroke="#222" stroke-width="1" fill="none"/>
<g transform="translate(506.065,650.440) scale(0.05873,0.05333)" fill="#333" opacity="0.995"><text x="0.00" y="0" font-size="100" font-weight="bold">Ø</text><text x="77.80" y="0" font-size="100" font-weight="bold">6</text></g>
<line x1="562.1" y1="626.2" x2="589.9" y2="626.2" stroke="#888" stroke-width="0.7" />
<line x1="562.1" y1="670.7" x2="649" y2="670.7" stroke="#888" stroke-width="0.7" />
<line x1="634.8" y1="626.4" x2="649" y2="626.4" stroke="#888" stroke-width="0.7" />
<line x1="562.1" y1="613.4" x2="663.5" y2="613.4" stroke="#888" stroke-width="0.7" />
<line x1="562.1" y1="683.5" x2="663.5" y2="683.5" stroke="#888" stroke-width="0.7" />
<line x1="509.4" y1="603.7" x2="509.4" y2="643.5" stroke="#555" stroke-width="0.8" />
<line x1="613.9" y1="603.7" x2="613.9" y2="644" stroke="#555" stroke-width="0.8" />
<line x1="489.4" y1="590.8" x2="634.8" y2="590.8" stroke="#555" stroke-width="0.8" />
<path d="M489.40,590.80 L494.90,589.50 L494.90,592.10 Z" fill="#111" stroke="none"/>
<path d="M634.80,590.80 L629.30,592.10 L629.30,589.50 Z" fill="#111" stroke="none"/>
<g transform="translate(556.986,587.551) scale(0.05912,0.04932)" fill="#333" opacity="0.995"><path transform="translate(0.00,0)" d="M41,0 L41,-71.6 L30,-71.6 C28,-66 23,-61 16,-57 C13,-55.3 10,-54 7,-53 L7,-41 C13,-43 20,-46.2 27,-51 L27,0 Z"/><text x="55.60" y="0" font-size="100" font-weight="bold">0</text><text x="111.20" y="0" font-size="100" font-weight="bold">4</text></g>
<line x1="509.4" y1="603.7" x2="613.9" y2="603.7" stroke="#555" stroke-width="0.8" />
<path d="M509.40,603.70 L514.90,602.40 L514.90,605.00 Z" fill="#111" stroke="none"/>
<path d="M613.90,603.70 L608.40,605.00 L608.40,602.40 Z" fill="#111" stroke="none"/>
<g transform="translate(558.962,600.737) scale(0.05962,0.06286)" fill="#333" opacity="0.995"><text x="0.00" y="0" font-size="100" font-weight="bold">7</text><text x="55.60" y="0" font-size="100" font-weight="bold">5</text></g>
<line x1="465.6" y1="627.3" x2="465.6" y2="669.3" stroke="#444" stroke-width="0.8" />
<path d="M465.60,627.30 L466.80,632.30 L464.40,632.30 Z" fill="#111" stroke="none"/>
<path d="M465.60,669.30 L464.40,664.30 L466.80,664.30 Z" fill="#111" stroke="none"/>
<g transform="translate(463.042,651.924) rotate(-90) scale(0.06190,0.05775)" fill="#333" opacity="0.995"><text x="0.00" y="0" font-size="100" font-weight="bold">3</text><text x="55.60" y="0" font-size="100" font-weight="bold">9</text></g>
<line x1="647.7" y1="626.2" x2="647.7" y2="670.6" stroke="#444" stroke-width="0.8" />
<path d="M647.70,626.20 L648.90,631.20 L646.50,631.20 Z" fill="#111" stroke="none"/>
<path d="M647.70,670.60 L646.50,665.60 L648.90,665.60 Z" fill="#111" stroke="none"/>
<g transform="translate(645.239,651.931) rotate(-90) scale(0.06571,0.06056)" fill="#333" opacity="0.995"><text x="0.00" y="0" font-size="100" font-weight="bold">3</text><text x="55.60" y="0" font-size="100" font-weight="bold">2</text></g>
<line x1="662.3" y1="613.4" x2="662.3" y2="683.5" stroke="#444" stroke-width="0.8" />
<path d="M662.30,613.40 L663.50,618.40 L661.10,618.40 Z" fill="#111" stroke="none"/>
<path d="M662.30,683.50 L661.10,678.50 L663.50,678.50 Z" fill="#111" stroke="none"/>
<g transform="translate(658.945,651.786) rotate(-90) scale(0.06190,0.05493)" fill="#333" opacity="0.995"><text x="0.00" y="0" font-size="100" font-weight="bold">5</text><text x="55.60" y="0" font-size="100" font-weight="bold">8</text></g>
<line x1="515" y1="632.6" x2="511" y2="641.8" stroke="#333" stroke-width="0.8" />
<path d="M511.00,642.50 L511.46,638.38 L513.51,639.19 Z" fill="#111" stroke="none"/>
<line x1="504.2" y1="664.2" x2="508.5" y2="655" stroke="#333" stroke-width="0.8" />
<path d="M508.50,654.50 L508.04,658.62 L505.99,657.81 Z" fill="#111" stroke="none"/>
<path d="M518.54,673.55 A50.3,50.3 0 0 0 605.66,673.55" stroke="#444" stroke-width="0.8" fill="none" />
<line x1="562.1" y1="648.4" x2="516.5389221896428" y2="674.75" stroke="#444" stroke-width="0.7" />
<line x1="562.1" y1="648.4" x2="607.6610778103573" y2="674.75" stroke="#444" stroke-width="0.7" />
<path d="M518.54,673.55 L515.00,669.82 L517.08,668.62 Z" fill="#111" stroke="none"/>
<path d="M605.66,673.55 L607.12,668.62 L609.20,669.82 Z" fill="#111" stroke="none"/>
<g transform="translate(556.202,696.542) scale(0.05692,0.05753)" fill="#333" opacity="0.995"><path transform="translate(0.00,0)" d="M41,0 L41,-71.6 L30,-71.6 C28,-66 23,-61 16,-57 C13,-55.3 10,-54 7,-53 L7,-41 C13,-43 20,-46.2 27,-51 L27,0 Z"/><text x="55.60" y="0" font-size="100" font-weight="bold">2</text><text x="111.20" y="0" font-size="100" font-weight="bold">0</text><text x="166.80" y="0" font-size="100" font-weight="bold">°</text></g>
</svg></body></html>
